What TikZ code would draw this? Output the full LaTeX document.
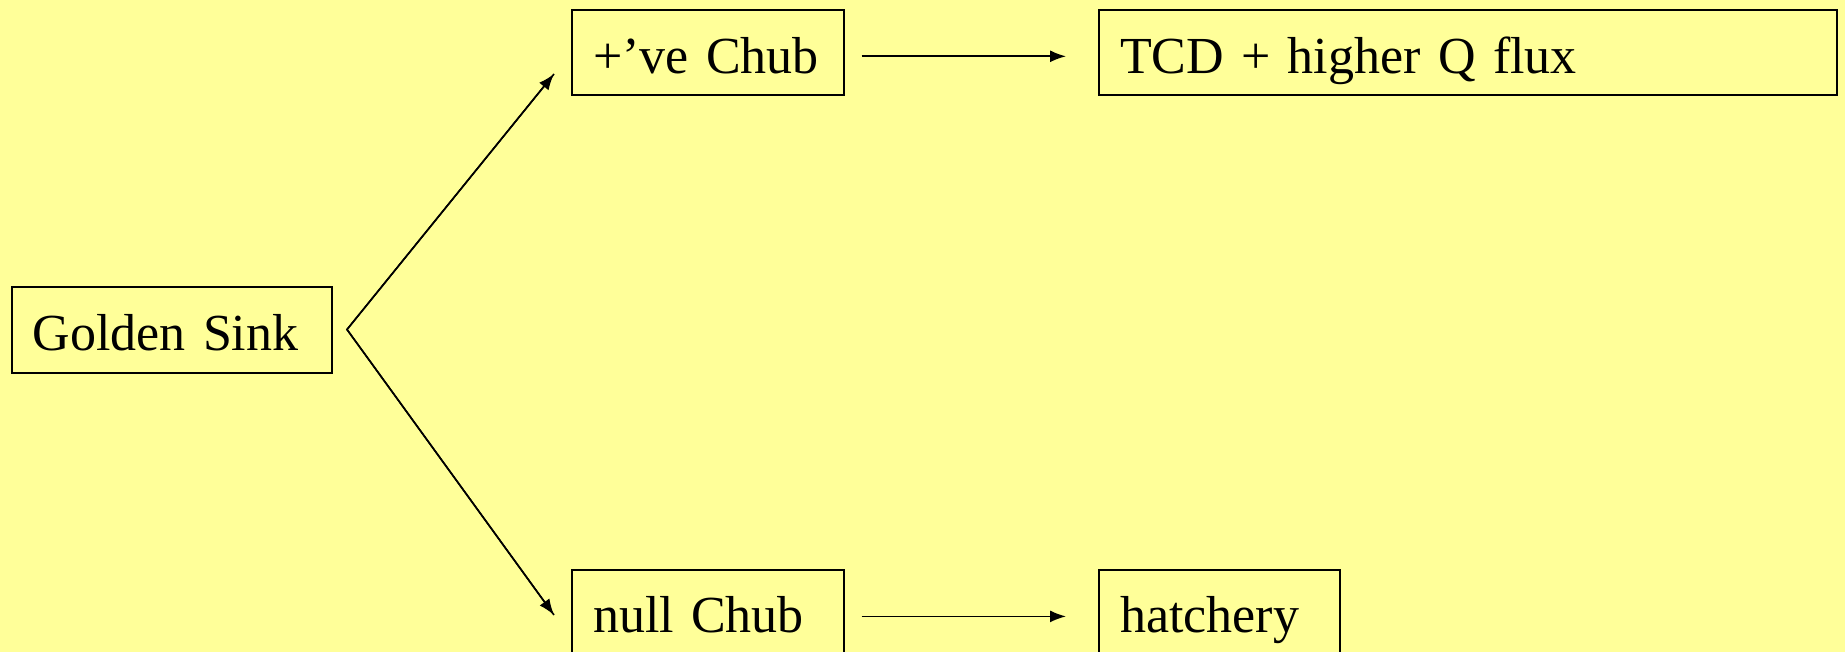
\documentclass[tikz,border=0pt]{standalone}
\usepackage{fontspec}
\setmainfont{Liberation Serif}[WordSpace=0.8]
\usetikzlibrary{arrows.meta,calc}
\definecolor{bgyellow}{HTML}{FFFF99}
\begin{document}
\begin{tikzpicture}[x=0.5pt,y=-0.5pt,
  box/.style={draw=black, line width=1pt, anchor=north west, inner xsep=10.5pt, inner ysep=0pt,
    align=left, font=\fontsize{26pt}{30pt}\selectfont, text height=20.5pt, text depth=0pt},
  arr/.style={line width=0.8pt, -{Latex[length=8pt,width=6pt]}}]
\fill[bgyellow] (0,0) rectangle (1845,652);
\useasboundingbox (0,0) rectangle (1845,652);
\node[box, minimum width=160pt, minimum height=43pt, text width=139pt] (gs) at (10.6,286) {Golden Sink};
\node[box, minimum width=135.75pt, minimum height=42.3pt, text width=114.75pt] (pc) at (571,9.4) {+’ve Chub};
\node[box, minimum width=368.8pt, minimum height=42.3pt, text width=347.8pt] (tcd) at (1098,9.4) {TCD + higher Q flux};
\node[box, minimum width=135.75pt, minimum height=42.3pt, text width=114.75pt] (nc) at (571,568.5) {null Chub};
\node[box, minimum width=120.5pt, minimum height=42.3pt, text width=99.5pt] (hat) at (1098,568.5) {hatchery};
\coordinate (apex) at (347,329.5);
\coordinate (upend) at (554,74);
\coordinate (lowend) at (554,615);
\draw[line width=0.8pt] (upend) -- (apex) -- (lowend);
\draw[arr] (apex) -- (upend);
\draw[arr] (apex) -- (lowend);
\draw[arr, shorten <=8.5pt, shorten >=16pt] ([yshift=-1.8pt]pc.east) coordinate (pcr) -- (pcr -| tcd.west);
\draw[arr, shorten <=8.5pt, shorten >=16pt] ([yshift=-2.3pt]nc.east) coordinate (ncr) -- (ncr -| hat.west);
\end{tikzpicture}
\end{document}
